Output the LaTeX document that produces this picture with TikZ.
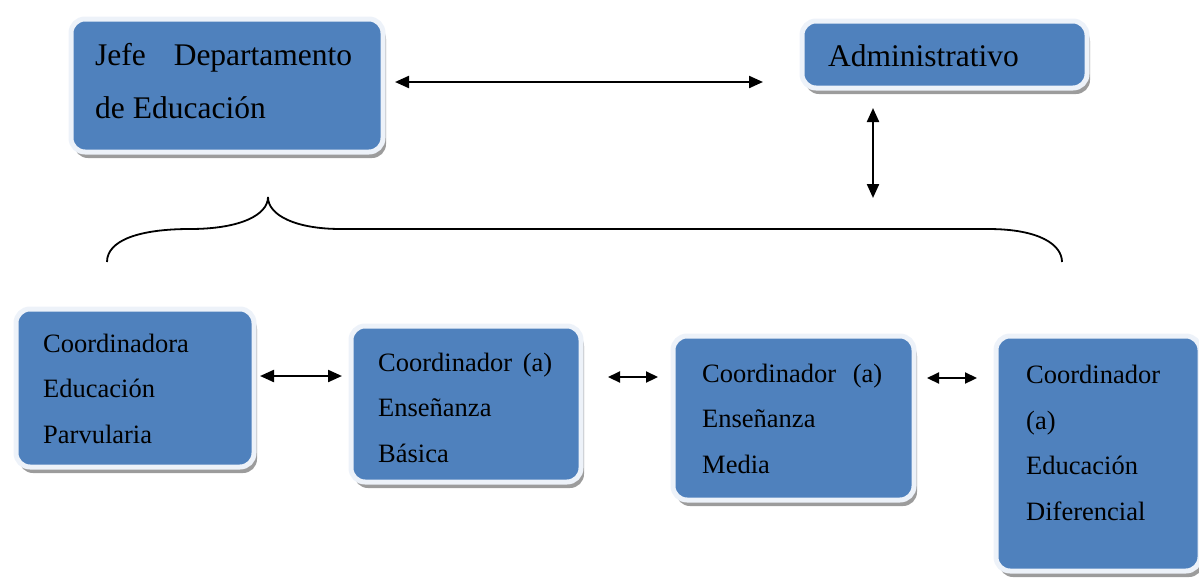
\documentclass[tikz,border=0pt]{standalone}
\usepackage{fontspec}
\setmainfont{Liberation Serif}
\usetikzlibrary{arrows.meta,shadows,calc}
\definecolor{boxblue}{HTML}{4F81BD}
\definecolor{boxedge}{HTML}{EDF2F9}
\definecolor{shadowgray}{HTML}{9C9C9C}
\tikzset{
  orgbox/.style={rounded corners=14pt, fill=boxblue, draw=boxedge, line width=5pt, inner sep=0pt,
    drop shadow={shadow xshift=3pt, shadow yshift=-6pt, fill=shadowgray, opacity=1}},
  bigtxt/.style={anchor=base west, inner sep=0pt, align=left, font=\fontsize{31.5}{53}\selectfont},
  smalltxt/.style={anchor=base west, inner sep=0pt, align=left, font=\fontsize{26.5}{45.5}\selectfont},
  bigarr/.style={line width=2.2pt, {Triangle[length=14pt,width=12pt]}-{Triangle[length=14pt,width=12pt]}},
  smallarr/.style={line width=2.2pt, {Triangle[length=12pt,width=11pt]}-{Triangle[length=12pt,width=11pt]}},
  brace/.style={line width=1.8pt}
}
\begin{document}
\begin{tikzpicture}[x=1pt,y=-1pt]
\useasboundingbox (0,0) rectangle (1199,579);
% boxes
\node[orgbox, minimum width=312pt, minimum height=133pt] (jefe) at (227,85.5) {};
\node[orgbox, minimum width=285pt, minimum height=67pt] (admin) at (944.5,54.5) {};
\node[orgbox, minimum width=238pt, minimum height=158pt] (parv) at (135,388) {};
\node[orgbox, minimum width=230pt, minimum height=156pt] (basica) at (466,404) {};
\node[orgbox, minimum width=241pt, minimum height=164pt] (media) at (793.5,418) {};
\node[orgbox, minimum width=204pt, minimum height=235pt] (dif) at (1098,453.5) {};
% texts (anchored at the baseline of the last line)
\node[bigtxt] (tjefe) at (95,118) {\makebox[257pt][l]{Jefe\hfill Departamento}\\de Educación};
\node[bigtxt] (tadmin) at (828,66) {Administrativo};
\node[smalltxt] (tparv) at (43,443) {Coordinadora\\Educación\\Parvularia};
\node[smalltxt] (tbasica) at (378,462) {\makebox[174pt][l]{Coordinador\hfill (a)}\\Enseñanza\\Básica};
\node[smalltxt] (tmedia) at (702,473) {\makebox[180pt][l]{Coordinador\hfill (a)}\\Enseñanza\\Media};
\node[smalltxt] (tdif) at (1026,520) {Coordinador\\(a)\\Educación\\Diferencial};
% connectors
\draw[bigarr] ($(jefe.east)+(9.5,-3.5)$) -- ($(admin.west)+(-36.5,27.5)$);
\coordinate (vend) at (873,198);
\draw[bigarr] ($(admin.south)+(-71.5,17.5)$) -- (vend);
\draw[bigarr] ($(parv.east)+(3.5,-12)$) -- ($(basica.west)+(-6.5,-28)$);
\draw[smallarr] ($(basica.east)+(24.5,-27)$) -- ($(media.west)+(-12.5,-41)$);
\draw[smallarr] ($(media.east)+(10.5,-40)$) -- ($(dif.west)+(-16.5,-75.5)$);
% brace
\draw[brace] (107,262) .. controls (107,240) and (140,229) .. (190,229)
  .. controls (240,229) and (268,215) .. (268,197)
  .. controls (268,215) and (295,229) .. (341,229)
  -- (988,229)
  .. controls (1040,229) and (1062,245) .. (1062,262);
\end{tikzpicture}
\end{document}
